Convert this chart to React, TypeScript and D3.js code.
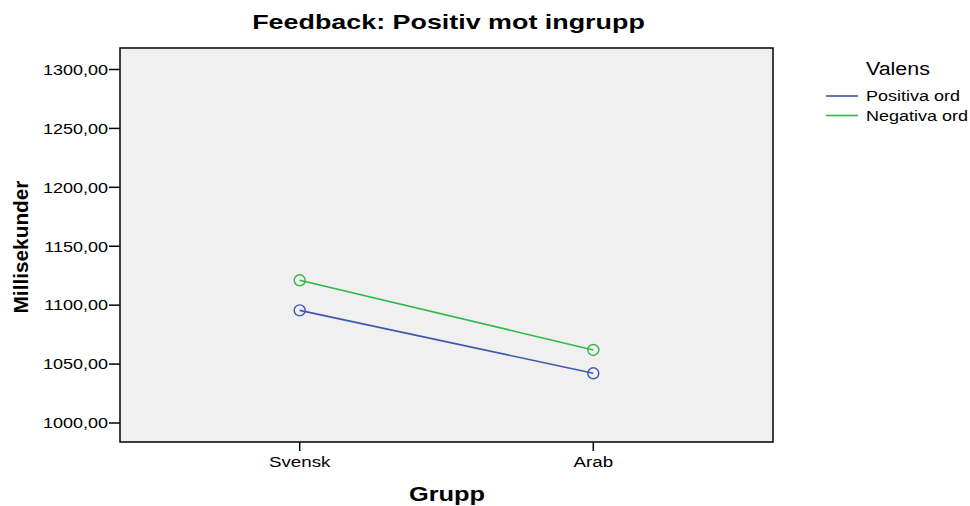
import React from "react";
import * as d3 from "d3";

const categories = ["Svensk", "Arab"];
const seriesNames = ["Positiva ord", "Negativa ord"];
const positivaValues = [1095.6, 1042.2];
const negativaValues = [1121.1, 1062.0];
const yTicks = [1000, 1050, 1100, 1150, 1200, 1250, 1300];
const colors = ["#3e58ac", "#2eb848"];

function SText(props: {
  x: number;
  y: number;
  sx: number;
  anchor?: "start" | "middle" | "end";
  size: number;
  bold?: boolean;
  dy?: string;
  children: React.ReactNode;
}) {
  return (
    <text
      transform={`translate(${props.x},${props.y}) scale(${props.sx},1)`}
      textAnchor={props.anchor || "start"}
      fontSize={props.size}
      fontWeight={props.bold ? "bold" : "normal"}
      dy={props.dy}
    >
      {props.children}
    </text>
  );
}

export default function App() {
  const W = 970, H = 506;
  const left = 120, right = 773, top = 48, bottom = 442;
  const x = d3.scalePoint<string>().domain(categories).range([left, right]).padding(0.612);
  const y = d3.scaleLinear().domain([1000, 1300]).range([423, 69.5]);
  const series = [positivaValues, negativaValues];
  const line = d3
    .line<number>()
    .x((_, i) => x(categories[i]) as number)
    .y((v) => y(v));
  const font = "Arial, 'Liberation Sans', sans-serif";
  return (
    <svg width={W} height={H} style={{ position: "absolute", left: 0, top: 0 }} fontFamily={font}>
      <rect x={0} y={0} width={W} height={H} fill="#fff" />
      <SText x={448.5} y={29} sx={1.28} anchor="middle" size={21} bold>
        Feedback: Positiv mot ingrupp
      </SText>
      <rect x={left} y={top} width={right - left} height={bottom - top} fill="#f0f0f0" stroke="#000" strokeWidth={1.5} />
      {yTicks.map((t) => (
        <g key={t}>
          <line x1={left - 11} x2={left} y1={y(t)} y2={y(t)} stroke="#000" strokeWidth={1.5} />
          <SText x={left - 12} y={y(t)} sx={1.2} dy="0.35em" anchor="end" size={15}>
            {d3.format(".2f")(t).replace(".", ",")}
          </SText>
        </g>
      ))}
      {categories.map((c) => (
        <g key={c}>
          <line x1={x(c)} x2={x(c)} y1={bottom} y2={bottom + 9} stroke="#000" strokeWidth={1.5} />
          <SText x={x(c) as number} y={467} sx={1.25} anchor="middle" size={15}>
            {c}
          </SText>
        </g>
      ))}
      <SText x={447} y={501} sx={1.27} anchor="middle" size={20} bold>
        Grupp
      </SText>
      <text
        transform={`translate(28,${(top + bottom) / 2 + 2}) rotate(-90)`}
        textAnchor="middle"
        fontSize={20.8}
        fontWeight="bold"
      >
        Millisekunder
      </text>
      {series.map((vals, si) => (
        <g key={si}>
          <path d={line(vals) || ""} fill="none" stroke={colors[si]} strokeWidth={1.6} />
          {vals.map((v, i) => (
            <circle key={i} cx={x(categories[i])} cy={y(v)} r={5.5} fill="none" stroke={colors[si]} strokeWidth={1.4} />
          ))}
        </g>
      ))}
      <SText x={866} y={75} sx={1.19} size={18}>
        Valens
      </SText>
      {seriesNames.map((n, i) => (
        <g key={n}>
          <line x1={826} x2={858} y1={96 + i * 19.5} y2={96 + i * 19.5} stroke={colors[i]} strokeWidth={1.6} />
          <SText x={866} y={96 + i * 19.5} sx={1.2} dy="0.35em" size={15}>
            {n}
          </SText>
        </g>
      ))}
    </svg>
  );
}
